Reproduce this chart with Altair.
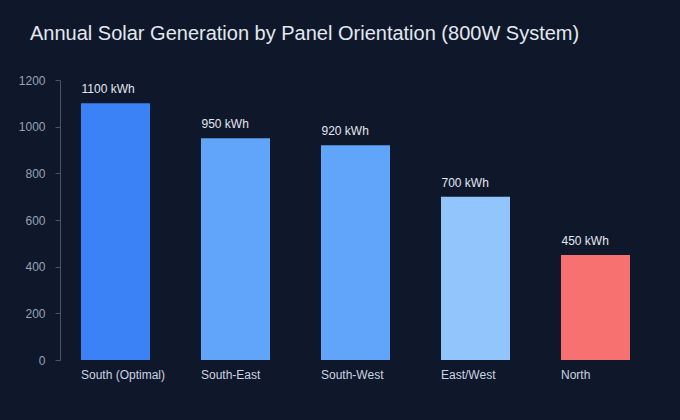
import altair as alt
import pandas as pd

orientations = ["South (Optimal)", "South-East", "South-West", "East/West", "North"]
generation_kwh = [1100, 950, 920, 700, 450]
bar_colors = ["#3b82f6", "#60a5fa", "#60a5fa", "#93c5fd", "#f87171"]
y_ticks = [0, 200, 400, 600, 800, 1000, 1200]

df = pd.DataFrame({
    "orientation": orientations,
    "kwh": generation_kwh,
    "color": bar_colors,
    "label": [f"{v} kWh" for v in generation_kwh],
})

font = "Liberation Sans"

x = alt.X(
    "orientation:N",
    sort=orientations,
    title=None,
    scale=alt.Scale(paddingInner=0.425, paddingOuter=0.175),
    axis=alt.Axis(
        domain=False, ticks=False, labelAngle=0, labelAlign="left",
        labelOffset=-34.5, labelPadding=9, labelFontSize=12,
        labelColor="#cbd5e1", labelFont=font,
    ),
)

bars = alt.Chart(df).mark_bar().encode(
    x=x,
    y=alt.Y(
        "kwh:Q",
        title=None,
        scale=alt.Scale(domain=[0, 1200], nice=False),
        axis=alt.Axis(
            values=y_ticks, format="d", grid=False, domainColor="#475569",
            tickColor="#475569", tickSize=5, labelPadding=10, labelFontSize=12,
            labelColor="#94a3b8", labelFont=font,
        ),
    ),
    color=alt.Color("color:N", scale=None),
)

labels = alt.Chart(df).mark_text(
    align="left", baseline="bottom", dx=-34, dy=-7, fontSize=12,
    color="#e2e8f0", font=font,
).encode(
    x=alt.X("orientation:N", sort=orientations, bandPosition=0.5),
    y="kwh:Q",
    text="label:N",
)

chart = (bars + labels).properties(
    width=591,
    height=280,
    background="#0f172a",
    padding={"left": 60, "top": 80, "right": 29, "bottom": 60},
    autosize=alt.AutoSizeParams(type="none"),
    title=alt.TitleParams(
        "Annual Solar Generation by Panel Orientation (800W System)",
        anchor="start", frame="group", dx=-30, offset=30,
        fontSize=20, fontWeight="normal", color="#e2e8f0", font=font,
    ),
).configure_view(stroke=None)

chart.save("out.html", embed_options={"renderer": "svg", "actions": False})
